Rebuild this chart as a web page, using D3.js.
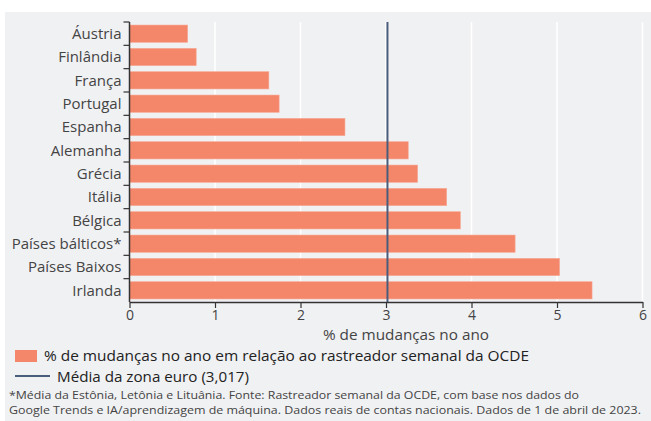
<html>
  <script src="https://d3js.org/d3.v7.min.js"></script>
  <style>
    body { margin: 0; background: #fff; }
    text { font-family: 'Open Sans', 'Noto Sans', sans-serif; }
  </style>
  <body>
    <svg id="vis" width="651" height="421"></svg>
    <script>
      // data
      countries = ['Áustria', 'Finlândia', 'França', 'Portugal', 'Espanha', 'Alemanha',
                   'Grécia', 'Itália', 'Bélgica', 'Países bálticos*', 'Países Baixos', 'Irlanda']
      values = [0.68, 0.78, 1.63, 1.75, 2.52, 3.26, 3.37, 3.71, 3.87, 4.51, 5.03, 5.41]
      xTicks = [0, 1, 2, 3, 4, 5, 6]
      euroMean = 3.017

      xTitle = '% de mudanças no ano'
      legendBar = '% de mudanças no ano em relação ao rastreador semanal da OCDE'
      legendLine = 'Média da zona euro (3,017)'
      notes = ['*Média da Estônia, Letônia e Lituânia. Fonte: Rastreador semanal da OCDE, com base nos dados do',
               'Google Trends e IA/aprendizagem de máquina. Dados reais de contas nacionais. Dados de 1 de abril de 2023.']

      barColor = '#f4876a'
      lineColor = '#4b5d7c'

      var svg = d3.select('#vis')

      svg.append('rect')
        .attr('x', 5).attr('y', 12)
        .attr('width', 646).attr('height', 409)
        .style('fill', '#f0f1f3')

      var x = d3.scaleLinear()
        .domain([0, 6])
        .range([129.5, 642.5])

      var y = d3.scaleBand()
        .domain(countries)
        .range([22, 302])
        .paddingInner(0.26)
        .paddingOuter(0.13)

      // grid
      svg.append('g')
        .selectAll('line')
        .data(xTicks.slice(1))
        .join('line')
        .attr('x1', d => x(d)).attr('x2', d => x(d))
        .attr('y1', 22).attr('y2', 302)
        .style('stroke', '#ffffff')
        .style('stroke-width', 1.5)

      // bars
      svg.append('g')
        .selectAll('rect')
        .data(countries)
        .join('rect')
        .attr('x', x(0))
        .attr('y', d => y(d))
        .attr('width', (d, i) => x(values[i]) - x(0))
        .attr('height', y.bandwidth())
        .style('fill', barColor)
        .style('stroke', '#f7a996')
        .style('stroke-width', 0.6)

      // mean line
      svg.append('line')
        .attr('x1', x(euroMean)).attr('x2', x(euroMean))
        .attr('y1', 22).attr('y2', 302)
        .style('stroke', lineColor)
        .style('stroke-width', 2)

      // y axis: ticks on band edges
      var yAxis = svg.append('g')
      yAxis.append('line')
        .attr('x1', x(0)).attr('x2', x(0))
        .attr('y1', 22).attr('y2', 302)
        .style('stroke', '#333').style('stroke-width', 1.5)
      yAxis.selectAll('.yt')
        .data(countries)
        .join('line')
        .attr('x1', x(0) - 6).attr('x2', x(0))
        .attr('y1', d => y(d) - y.step() * y.paddingInner() / 2)
        .attr('y2', d => y(d) - y.step() * y.paddingInner() / 2)
        .style('stroke', '#333').style('stroke-width', 1.2)
      yAxis.selectAll('text')
        .data(countries)
        .join('text')
        .attr('x', x(0) - 8)
        .attr('y', d => y(d) + y.bandwidth() / 2)
        .attr('dy', '0.35em')
        .attr('text-anchor', 'end')
        .style('font-size', '15px')
        .style('fill', '#444')
        .text(d => d)

      // x axis
      var xAxis = svg.append('g')
        .attr('transform', 'translate(0,302)')
        .call(d3.axisBottom(x).tickValues(xTicks).tickFormat(d3.format('d')).tickSize(6).tickSizeOuter(0))
      xAxis.select('.domain').style('stroke', '#333').style('stroke-width', 1.5)
      xAxis.selectAll('line').style('stroke', '#333').style('stroke-width', 1.2)
      xAxis.selectAll('text')
        .style('font-family', "'Open Sans', sans-serif")
        .style('font-size', '14px')
        .style('fill', '#444')
        .attr('y', 8)

      svg.append('text')
        .attr('x', 406).attr('y', 340)
        .attr('text-anchor', 'middle')
        .attr('textLength', 166)
        .attr('lengthAdjust', 'spacingAndGlyphs')
        .style('font-size', '14px')
        .style('fill', '#444')
        .text(xTitle)

      // legend
      svg.append('rect')
        .attr('x', 15).attr('y', 350)
        .attr('width', 22).attr('height', 12)
        .style('fill', barColor)
      svg.append('text')
        .attr('x', 44).attr('y', 361)
        .attr('textLength', 485)
        .attr('lengthAdjust', 'spacingAndGlyphs')
        .style('font-size', '15px')
        .style('fill', '#222')
        .text(legendBar)

      svg.append('line')
        .attr('x1', 15).attr('x2', 50)
        .attr('y1', 376).attr('y2', 376)
        .style('stroke', lineColor)
        .style('stroke-width', 2)
      svg.append('text')
        .attr('x', 57).attr('y', 382)
        .attr('textLength', 192)
        .attr('lengthAdjust', 'spacingAndGlyphs')
        .style('font-size', '15px')
        .style('fill', '#222')
        .text(legendLine)

      // notes
      noteWidths = [570, 632]
      svg.selectAll('.note')
        .data(notes)
        .join('text')
        .attr('x', 9)
        .attr('y', (d, i) => 399 + i * 15)
        .attr('textLength', (d, i) => noteWidths[i])
        .attr('lengthAdjust', 'spacingAndGlyphs')
        .style('font-size', '11.5px')
        .style('fill', '#444')
        .text(d => d)
    </script>
  </body>
</html>
